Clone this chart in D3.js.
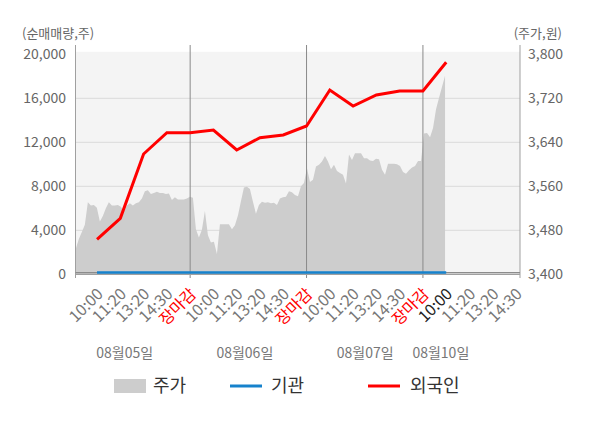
<!DOCTYPE html>
<html><head><meta charset="utf-8">
<script src="https://cdn.jsdelivr.net/npm/d3@7"></script>
<style>
body{margin:0;background:#fff;}
svg{display:block;font-family:"Noto Sans CJK KR","Noto Sans",sans-serif;}
</style>
</head><body>
<svg id="c" width="600" height="428"></svg>
<script>
// ---------- data ----------
const slotLabels = ["10:00","11:20","13:20","14:30","장마감",
                    "10:00","11:20","13:20","14:30","장마감",
                    "10:00","11:20","13:20","14:30","장마감",
                    "10:00","11:20","13:20","14:30"];
const dayLabels = ["08월05일","08월06일","08월07일","08월10일"];
const dayLabelSlots = [1.19, 6.35, 11.52, 14.77];
const dayCloseSlots = [4, 9, 14];
const foreignNet = [3182,5091,10936,12873,12873,13118,11300,12418,12664,13482,16755,15300,16300,16664,16664,19273];
const instNet    = [160,160,160,160,160,160,160,160,160,160,160,160,160,160,160,160];
const priceStartSlot = -0.91, priceEndSlot = 14.95;
const price = [3447,3464,3477,3490,3531,3525,3526,3521,3496,3506,3520,3531,3525,3525,3526,3523,3514,3525,3529,3525,
 3529,3531,3538,3551,3553,3546,3548,3550,3548,3548,3546,3547,3535,3540,3536,3536,3536,3538,3541,3539,
 3482,3467,3481,3515,3471,3458,3459,3437,3491,3491,3491,3491,3482,3489,3507,3533,3558,3559,3555,3532,
 3510,3526,3532,3530,3531,3529,3530,3526,3538,3540,3541,3551,3549,3544,3542,3560,3566,3593,3568,3572,
 3596,3599,3605,3615,3605,3591,3599,3588,3584,3581,3565,3618,3608,3620,3620,3620,3611,3611,3607,3606,
 3610,3609,3590,3581,3601,3601,3601,3600,3597,3586,3583,3589,3594,3597,3606,3606,3656,3657,3649,3666,
 3700,3721,3741,3761];
const leftTicks = [0,4000,8000,12000,16000,20000];
const rightTicks = [3400,3480,3560,3640,3720,3800];

// ---------- scales ----------
const svg = d3.select("#c");
const x = d3.scaleLinear().domain([-0.925, 18.17]).range([75.5, 520]);
const yL = d3.scaleLinear().domain([0, 20000]).range([274.3, 54.3]);
const yR = d3.scaleLinear().domain([3400, 3800]).range([274.3, 54.3]);
const xP = d3.scaleLinear().domain([0, price.length - 1]).range([x(priceStartSlot), x(priceEndSlot)]);

// background
svg.append("rect").attr("x", x.range()[0]).attr("y", yL(20000) - 2.5)
  .attr("width", x.range()[1] - x.range()[0]).attr("height", yL(0) - yL(20000) + 2.5)
  .attr("fill", "#f4f4f4");

// grid
svg.append("g").selectAll("line").data(leftTicks.filter(d => d > 0 && d < 20000)).join("line")
  .attr("x1", x.range()[0]).attr("x2", x.range()[1])
  .attr("y1", d => yL(d)).attr("y2", d => yL(d))
  .attr("stroke", "#dadada").attr("stroke-width", 1);

// price area
svg.append("path").datum(price)
  .attr("d", d3.area().x((d, i) => xP(i)).y0(yR(3400)).y1(d => yR(d)))
  .attr("fill", "#cdcdcd");

// day separators
svg.append("g").selectAll("line").data(dayCloseSlots).join("line")
  .attr("x1", d => x(d)).attr("x2", d => x(d)).attr("y1", 45).attr("y2", 278)
  .attr("stroke", "#8a8a8a").attr("stroke-width", 1);

// side axes
[x.range()[0], x.range()[1]].forEach(v => {
  svg.append("line").attr("x1", v).attr("x2", v).attr("y1", 45).attr("y2", 278)
    .attr("stroke", "#a0a0a0").attr("stroke-width", 1);
});

// zero reference line and bottom axis
svg.append("line").attr("x1", x.range()[0]).attr("x2", x.range()[1])
  .attr("y1", yL(160)).attr("y2", yL(160)).attr("stroke", "#8c8c8c").attr("stroke-width", 1.2);
svg.append("line").attr("x1", x.range()[0]).attr("x2", x.range()[1])
  .attr("y1", yL(0)).attr("y2", yL(0)).attr("stroke", "#a0a0a0").attr("stroke-width", 1.2);

// institution line
svg.append("path").datum(instNet)
  .attr("d", d3.line().x((d, i) => x(i)).y(d => yL(d)))
  .attr("fill", "none").attr("stroke", "#1682cc").attr("stroke-width", 2.6);

// foreign line
svg.append("path").datum(foreignNet)
  .attr("d", d3.line().x((d, i) => x(i)).y(d => yL(d)))
  .attr("fill", "none").attr("stroke", "#ff0000").attr("stroke-width", 3).attr("stroke-linejoin", "miter");

// left axis labels
svg.append("g").selectAll("text").data(leftTicks).join("text")
  .attr("x", 66).attr("y", d => yL(d)).attr("dy", "0.35em").attr("text-anchor", "end")
  .attr("font-size", 14).attr("fill", "#666").text(d => d3.format(",")(d));
// right axis labels
svg.append("g").selectAll("text").data(rightTicks).join("text")
  .attr("x", 528).attr("y", d => yR(d)).attr("dy", "0.35em").attr("text-anchor", "start")
  .attr("font-size", 14).attr("fill", "#666").text(d => d3.format(",")(d));

// axis titles
svg.append("text").attr("x", 22).attr("y", 33).attr("dy", "0.35em").attr("font-size", 13)
  .attr("fill", "#666").text("(순매매량,주)");
svg.append("text").attr("x", 562).attr("y", 33).attr("dy", "0.35em").attr("font-size", 13)
  .attr("text-anchor", "end").attr("fill", "#666").text("(주가,원)");

// x labels
svg.append("g").selectAll("text").data(slotLabels).join("text")
  .attr("transform", (d, i) => `translate(${x(i) + 7},295) rotate(-45)`)
  .attr("text-anchor", "end").attr("font-size", 16)
  .attr("fill", (d, i) => d === "장마감" ? "#ff0000" : (i === 15 ? "#222" : "#777"))
  .text(d => d);

// day labels
svg.append("g").selectAll("text").data(dayLabels).join("text")
  .attr("x", (d, i) => x(dayLabelSlots[i])).attr("y", 358)
  .attr("text-anchor", "middle").attr("font-size", 14).attr("fill", "#777").text(d => d);

// legend
const lg = svg.append("g");
lg.append("rect").attr("x", 114).attr("y", 379).attr("width", 32).attr("height", 14).attr("fill", "#cdcdcd");
lg.append("text").attr("x", 153).attr("y", 386).attr("dy", "0.35em").attr("font-size", 18).attr("fill", "#333").text("주가");
lg.append("line").attr("x1", 230).attr("x2", 262).attr("y1", 386).attr("y2", 386).attr("stroke", "#1682cc").attr("stroke-width", 3);
lg.append("text").attr("x", 271).attr("y", 386).attr("dy", "0.35em").attr("font-size", 18).attr("fill", "#333").text("기관");
lg.append("line").attr("x1", 368).attr("x2", 400).attr("y1", 386).attr("y2", 386).attr("stroke", "#ff0000").attr("stroke-width", 3);
lg.append("text").attr("x", 410).attr("y", 386).attr("dy", "0.35em").attr("font-size", 18).attr("fill", "#333").text("외국인");
</script>
</body></html>
